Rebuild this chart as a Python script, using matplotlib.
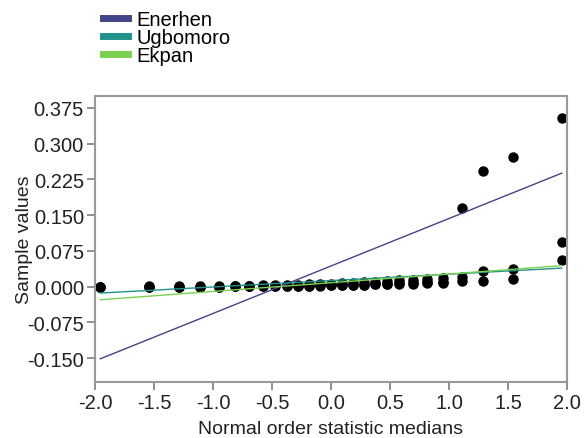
import matplotlib
matplotlib.use("Agg")
from matplotlib import pyplot as plt

plt.rcParams['font.family'] = ['Liberation Sans', 'DejaVu Sans']

# normal order statistic medians (27 samples per site)
osm = [-1.955, -1.543, -1.292, -1.106, -0.950, -0.814, -0.693, -0.580, -0.475,
       -0.375, -0.278, -0.184, -0.092, 0.000, 0.092, 0.184, 0.278, 0.375,
       0.475, 0.580, 0.693, 0.814, 0.950, 1.106, 1.292, 1.543, 1.955]

enerhen = [0.000, 0.000, 0.000, 0.000, 0.000, 0.001, 0.001, 0.001, 0.001,
           0.001, 0.002, 0.002, 0.002, 0.003, 0.003, 0.004, 0.004, 0.005,
           0.005, 0.006, 0.006, 0.007, 0.008, 0.166, 0.242, 0.272, 0.354]
ugbomoro = [0.000, 0.001, 0.001, 0.001, 0.002, 0.002, 0.002, 0.003, 0.003,
            0.004, 0.004, 0.005, 0.006, 0.006, 0.007, 0.008, 0.009, 0.010,
            0.011, 0.013, 0.014, 0.016, 0.019, 0.020, 0.032, 0.037, 0.056]
ekpan = [0.000, 0.000, 0.000, 0.000, 0.000, 0.001, 0.001, 0.001, 0.001,
         0.002, 0.002, 0.002, 0.003, 0.003, 0.003, 0.004, 0.004, 0.005,
         0.005, 0.007, 0.008, 0.009, 0.010, 0.011, 0.011, 0.016, 0.094]

sites = ["Enerhen", "Ugbomoro", "Ekpan"]
samples = [enerhen, ugbomoro, ekpan]
# fitted lines: slope, intercept
slopes = [0.0996, 0.0134, 0.0183]
intercepts = [0.0434, 0.0128, 0.0083]
colors = ['#414487', '#21918c', '#7ad151']

fig = plt.figure(figsize=(5.84, 4.39), dpi=100)
ax = fig.add_axes([95/584, 1-383/439, 472/584, 286/439])

handles = []
for name, ys, m, b, c in zip(sites, samples, slopes, intercepts, colors):
    ax.plot(osm, ys, 'ko', markersize=6.5, zorder=2)
    xs = [osm[0], osm[-1]]
    ax.plot(xs, [m*x + b for x in xs], color=c, lw=1.0, zorder=3)
    h, = plt.plot([], [], color=c, lw=5)
    handles.append(h)

ax.set_xlim(-2.0, 2.0)
ax.set_ylim(-0.2, 0.4)
ax.set_xticks([-2.0, -1.5, -1.0, -0.5, 0.0, 0.5, 1.0, 1.5, 2.0])
ax.set_xticklabels(["-2.0", "-1.5", "-1.0", "-0.5", "0.0", "0.5", "1.0", "1.5", "2.0"])
ax.set_yticks([-0.150, -0.075, 0.000, 0.075, 0.150, 0.225, 0.300, 0.375])
ax.set_yticklabels(["-0.150", "-0.075", "0.000", "0.075", "0.150", "0.225", "0.300", "0.375"])
ax.tick_params(labelsize=14.5, color='#888888', width=1.3, length=6, labelcolor='#222222', pad=2)
for s in ax.spines.values():
    s.set_color('#999999')
    s.set_linewidth(1.5)

ax.set_xlabel("Normal order statistic medians", fontsize=14, color='#222222', labelpad=6)
ax.set_ylabel("Sample values", fontsize=14, color='#222222')
ax.yaxis.set_label_coords(-0.131, 0.5)

fig.legend(handles, sites, loc='upper left', bbox_to_anchor=(0.152, 1.006),
           frameon=False, fontsize=14.5, handlelength=1.25, handletextpad=0.4,
           labelspacing=-0.05, borderpad=0.2)

fig.savefig("out.png", dpi=100)
